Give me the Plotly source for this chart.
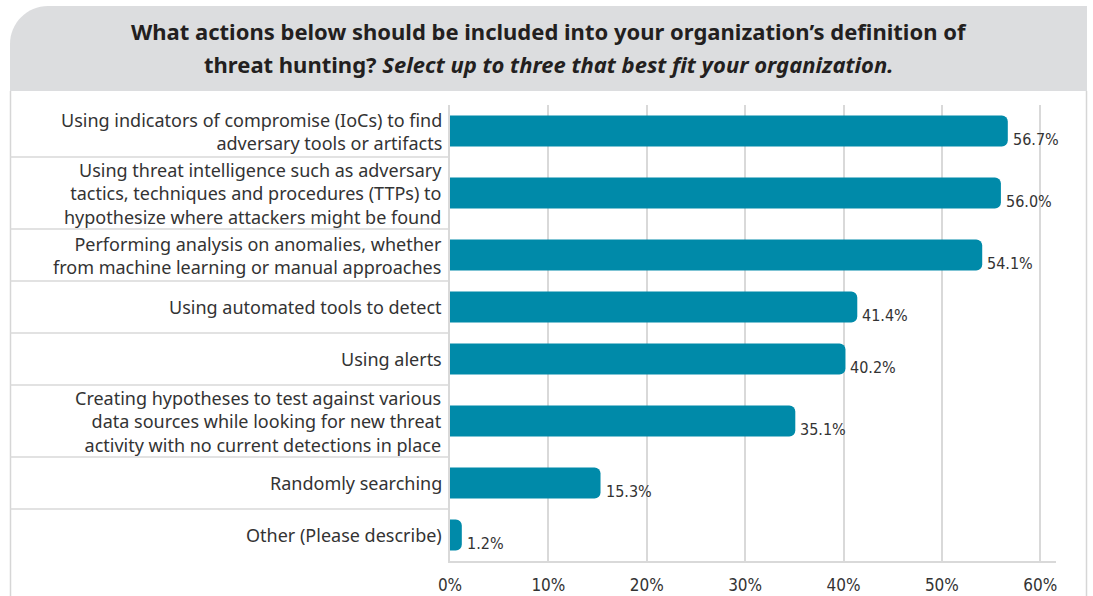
import plotly.graph_objects as go

# ---- data ----
labels = [
    "Using indicators of compromise (IoCs) to find<br>adversary tools or artifacts",
    "Using threat intelligence such as adversary<br>tactics, techniques and procedures (TTPs) to<br>hypothesize where attackers might be found",
    "Performing analysis on anomalies, whether<br>from machine learning or manual approaches",
    "Using automated tools to detect",
    "Using alerts",
    "Creating hypotheses to test against various<br>data sources while looking for new threat<br>activity with no current detections in place",
    "Randomly searching",
    "Other (Please describe)",
]
values = [56.7, 56.0, 54.1, 41.4, 40.2, 35.1, 15.3, 1.2]
x_ticks = [0, 10, 20, 30, 40, 50, 60]
x_tick_labels = ["0%", "10%", "20%", "30%", "40%", "50%", "60%"]
title_line1 = "<b>What actions below should be included into your organization’s definition of</b>"
title_line2 = "<b>threat hunting? <i>Select up to three that best fit your organization.</i></b>"

# ---- layout geometry (pixels) ----
W, H = 1093, 596
L, R, T, B = 450, 1056, 105, 561
BAR_COLOR = "#008aa9"
GRID = "#d9d9d9"
TEXT = "#333333"
COND = "Liberation Sans Narrow, DejaVu Sans Condensed, Roboto, sans-serif"

def X(px):
    return (px - L) / (R - L)

def Y(py):
    return (B - py) / (B - T)

# row heights depend on the number of label lines
n_lines = [lab.count("<br>") + 1 for lab in labels]
heights = [52 + 20 * max(0, n - 2) for n in n_lines]
bounds = [0]
for h in heights:
    bounds.append(bounds[-1] + h)
centers = [(bounds[i] + bounds[i + 1]) / 2 for i in range(len(labels))]
total = bounds[-1]

fig = go.Figure()
fig.add_trace(go.Bar(
    x=values, y=centers, orientation="h", width=31,
    marker=dict(color=BAR_COLOR, line=dict(width=0)),
    hoverinfo="skip",
))

shapes = []
# header with rounded top-left corner
x0, x1, y0, y1, r = 10, 1087, 6, 91, 38
k = 0.448 * r
path = (f"M {X(x0)},{Y(y1)} L {X(x0)},{Y(y0 + r)} "
        f"C {X(x0)},{Y(y0 + k)} {X(x0 + k)},{Y(y0)} {X(x0 + r)},{Y(y0)} "
        f"L {X(x1)},{Y(y0)} L {X(x1)},{Y(y1)} Z")
shapes.append(dict(type="path", path=path, xref="paper", yref="paper",
                   fillcolor="#dcdddf", line=dict(width=0), layer="below"))
# panel side borders
for px in (10.5, 1086.5):
    shapes.append(dict(type="line", xref="paper", yref="paper",
                       x0=X(px), x1=X(px), y0=Y(91), y1=Y(596),
                       line=dict(color="#d6d6d6", width=1.5)))
# row separators in label area
for b in bounds[1:-1]:
    shapes.append(dict(type="line", xref="paper", yref="y",
                       x0=X(10), x1=0, y0=b, y1=b,
                       line=dict(color=GRID, width=1.5)))

annotations = [
    dict(text=title_line1, xref="paper", yref="paper", x=X(548.5), y=Y(31),
         xanchor="center", yanchor="middle", showarrow=False,
         font=dict(family="Noto Sans", size=22, color="#231f20")),
    dict(text=title_line2, xref="paper", yref="paper", x=X(548.5), y=Y(64),
         xanchor="center", yanchor="middle", showarrow=False,
         font=dict(family="Noto Sans", size=22, color="#231f20")),
]
# category labels
for lab, c in zip(labels, centers):
    annotations.append(dict(
        text=lab, x=0, y=c, xref="paper", yref="y", align="right",
        xanchor="right", yanchor="middle", xshift=-6, showarrow=False,
        font=dict(family="Noto Sans", size=18, color=TEXT)))
# value labels
for v, c in zip(values, centers):
    annotations.append(dict(
        text=f"{v:.1f}%", x=v, y=c, xref="x", yref="y",
        xanchor="left", yanchor="middle", xshift=3, yshift=-8, showarrow=False,
        font=dict(family=COND, size=16, color=TEXT)))

fig.update_layout(
    width=W, height=H,
    margin=dict(l=L, r=W - R, t=T, b=H - B, pad=0, autoexpand=False),
    paper_bgcolor="white", plot_bgcolor="white",
    showlegend=False, barcornerradius=6,
    shapes=shapes, annotations=annotations,
    xaxis=dict(range=[0, 61.6], tickvals=x_ticks, ticktext=x_tick_labels,
               showgrid=True, gridcolor=GRID, gridwidth=1.5, zeroline=False,
               showline=True, linecolor=GRID, linewidth=1.5, automargin=False,
               ticks="outside", ticklen=8, tickcolor="rgba(0,0,0,0)",
               tickfont=dict(family=COND, size=17, color=TEXT), fixedrange=True),
    yaxis=dict(range=[total, 0], showticklabels=False, automargin=False,
               showgrid=False, zeroline=False,
               showline=True, linecolor=GRID, linewidth=1.5,
               ticks="", fixedrange=True),
)

fig.write_html("out.html", config={"displayModeBar": False},
               post_script="document.body.style.margin='0px';document.body.style.padding='0px';")
